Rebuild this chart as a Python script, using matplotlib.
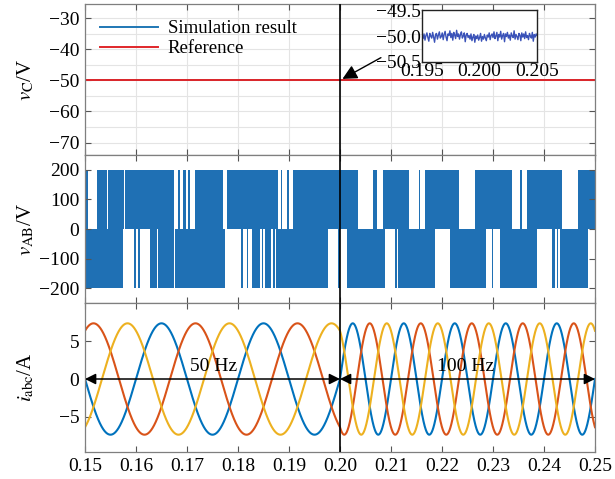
import numpy as np
import matplotlib
matplotlib.use("Agg")
import matplotlib.pyplot as plt
from matplotlib.ticker import MultipleLocator

plt.rcParams['font.family'] = ['Liberation Serif', 'DejaVu Serif']
plt.rcParams['mathtext.fontset'] = 'stix'
plt.rcParams['axes.unicode_minus'] = True

# ---------------- data ----------------
x_ticks = [0.15, 0.16, 0.17, 0.18, 0.19, 0.20, 0.21, 0.22, 0.23, 0.24, 0.25]
x_tick_labels = ["0.15", "0.16", "0.17", "0.18", "0.19", "0.20", "0.21", "0.22", "0.23", "0.24", "0.25"]

# capacitor voltage (top panel)
vc_time = [0.15, 0.25]
vc_sim = [-50.0, -50.0]
vc_ref = [-50.0, -50.0]
vc_ticks = [-70, -60, -50, -40, -30]

# zoomed capacitor voltage (inset), deviations in 0.01 V
inset_t0, inset_t1 = 0.195, 0.205
inset_dev = [2, -5, 4, -8, 1, 6, -3, -10, 5, 0, -4, 7, -2, -12, 3, 5, -6, 2, 8, -4,
             -1, 6, -7, 3, 9, -2, -9, 4, 1, 10, -3, 5, -8, 7, 2, -5, 11, -1, 4, -6,
             3, 8, -4, 0, 6, -11, 2, 5, -3, 1, -6, 4, -9, -2, 3, -12, 0, -5, 2, -8,
             -3, 5, -10, -1, -6, 3, -4, -9, 2, -2, 6, -7, 1, 4, -3, 8, -5, 0, 7, -9,
             3, -2, 9, -6, 1, 5, -11, 4, -1, 7, -4, 2, -8, 6, 0, -3, 10, -6, 3, -1,
             -7, 5, 2, -9, 6, -2, 4, -5, 8, -3, 1, -7, 5, 0, -4, 7, -10, 3, -2, 4, 1]
inset_center = -50.0

# line voltage vAB: intervals (start, end) in seconds where the PWM reaches +200 / -200
vab_level = 200
vab_pos_intervals = [
    (0.1500, 0.1506), (0.1524, 0.1544), (0.1546, 0.1576), (0.1578, 0.1675),
    (0.1683, 0.1686), (0.1692, 0.1698), (0.1702, 0.1706),
    (0.1716, 0.1771), (0.1778, 0.1878), (0.1884, 0.1886), (0.1896, 0.1900),
    (0.1908, 0.2035), (0.2065, 0.2073), (0.2084, 0.2135), (0.2155, 0.2157),
    (0.2167, 0.2233), (0.2265, 0.2337), (0.2353, 0.2357), (0.2367, 0.2435),
    (0.2467, 0.2500)]
vab_neg_intervals = [
    (0.1500, 0.1575), (0.1596, 0.1600), (0.1604, 0.1608),
    (0.1627, 0.1641), (0.1643, 0.1675), (0.1677, 0.1775),
    (0.1806, 0.1810), (0.1818, 0.1820), (0.1827, 0.1843), (0.1847, 0.1849),
    (0.1853, 0.1865), (0.1869, 0.1873), (0.1875, 0.1976), (0.1996, 0.2000),
    (0.2014, 0.2088), (0.2108, 0.2112), (0.2114, 0.2186), (0.2216, 0.2286),
    (0.2298, 0.2300), (0.2314, 0.2386), (0.2416, 0.2422), (0.2425, 0.2427),
    (0.2431, 0.2486)]
vab_ticks = [-200, -100, 0, 100, 200]

# three-phase currents: amplitude, frequency per segment, phase at t=0.15
i_amp = 7.4
seg_bounds = [0.15, 0.20, 0.25]
seg_freq = [50, 100]
phase_deg = {'a': 180, 'b': 60, 'c': -60}   # blue, red, yellow
i_ticks = [-5, 0, 5]
freq_labels = ["50 Hz", "100 Hz"]

# ---------------- styling ----------------
blue = '#1f70b4'
c_blue, c_red, c_yel = '#0072BD', '#D95319', '#EDB120'
spine_col = '#7f7f7f'
fs = 14

fig = plt.figure(figsize=(6.15, 4.79), dpi=100)
L, W = 85 / 615, 510 / 615
ax1 = fig.add_axes([L, 1 - 155 / 479, W, 151 / 479])
ax2 = fig.add_axes([L, 1 - 303 / 479, W, 148 / 479])
ax3 = fig.add_axes([L, 1 - 452 / 479, W, 149 / 479])

for ax in (ax1, ax2, ax3):
    ax.set_xlim(0.15, 0.25)
    ax.set_xticks(x_ticks)
    ax.tick_params(direction='in', top=True, right=True, length=4, width=0.8,
                   color='#555555', labelsize=fs, pad=4)
    for s in ax.spines.values():
        s.set_color(spine_col)
        s.set_linewidth(0.9)
    ax.axvline(0.20, color='black', lw=1.2, zorder=10)
for ax in (ax1, ax2):
    ax.set_xticklabels([])
ax3.set_xticklabels(x_tick_labels)

# ---- top panel ----
ax1.set_ylim(-74, -25.5)
ax1.set_yticks(vc_ticks)
ax1.set_yticklabels([f"\u2212{abs(v)}" for v in vc_ticks])
ax1.yaxis.set_minor_locator(MultipleLocator(5))
ax1.tick_params(which='minor', length=0)
ax1.grid(True, which='both', axis='y', color='#e4e4e4', lw=0.8)
ax1.grid(True, which='major', axis='x', color='#e4e4e4', lw=0.8)
ax1.set_axisbelow(True)
ax1.plot(vc_time, vc_sim, color='#1f77b4', lw=1.4, label='Simulation result')
ax1.plot(vc_time, vc_ref, color='#e0262a', lw=1.4, label='Reference')
leg = ax1.legend(loc='upper left', frameon=False, fontsize=13.5, handlelength=3.1,
                 bbox_to_anchor=(0.0, 0.993), labelspacing=0.15, handletextpad=0.5,
                 borderaxespad=0.4)
ax1.set_ylabel("$v_{\\mathrm{C}}$/V", fontsize=fs + 1)

ax1.annotate('', xy=(0.2, -50), xytext=(0.2085, -42.3),
             arrowprops=dict(arrowstyle='-|>', color='black', lw=1.0, mutation_scale=22),
             zorder=12)

axin = ax1.inset_axes([0.661, 0.616, 0.2255, 0.344])
t_in = np.linspace(inset_t0, inset_t1, len(inset_dev))
axin.plot(t_in, inset_center + np.array(inset_dev) / 100.0, color='#3a52b8', lw=1.0)
axin.set_xlim(inset_t0, inset_t1)
axin.set_ylim(-50.5, -49.5)
axin.set_xticks([0.195, 0.200, 0.205])
axin.set_xticklabels(["0.195", "0.200", "0.205"])
axin.set_yticks([-49.5, -50.0, -50.5])
axin.set_yticklabels(["\u221249.5", "\u221250.0", "\u221250.5"])
axin.tick_params(length=0, labelsize=fs, pad=1)
for s in axin.spines.values():
    s.set_color('#222222')
    s.set_linewidth(1.0)

# ---- middle panel ----
ax2.set_ylim(-250, 250)
ax2.set_yticks(vab_ticks)
ax2.set_yticklabels([f"\u2212{abs(v)}" if v < 0 else str(v) for v in vab_ticks])
ax2.broken_barh([(a, b - a) for a, b in vab_pos_intervals], (0, vab_level),
                facecolors=blue, edgecolor='none')
ax2.broken_barh([(a, b - a) for a, b in vab_neg_intervals], (-vab_level, vab_level),
                facecolors=blue, edgecolor='none')
ax2.set_ylabel("$v_{\\mathrm{AB}}$/V", fontsize=fs + 1)

# ---- bottom panel ----
ax3.set_ylim(-9.7, 10.1)
ax3.set_yticks(i_ticks)
ax3.set_yticklabels([f"\u2212{abs(v)}" if v < 0 else str(v) for v in i_ticks])
t_all, theta_all = [], []
theta0 = 0.0
for k, f in enumerate(seg_freq):
    t = np.linspace(seg_bounds[k], seg_bounds[k + 1], 1500)
    th = theta0 + 2 * np.pi * f * (t - seg_bounds[k])
    t_all.append(t)
    theta_all.append(th)
    theta0 = th[-1]
t_all = np.concatenate(t_all)
theta_all = np.concatenate(theta_all)
for ph, col in zip(['a', 'b', 'c'], [c_blue, c_red, c_yel]):
    ax3.plot(t_all, i_amp * np.sin(theta_all + np.deg2rad(phase_deg[ph])), color=col, lw=1.5)
ax3.set_ylabel("$i_{\\mathrm{abc}}$/A", fontsize=fs + 1)

arrow_kw = dict(arrowstyle='<|-|>', color='black', lw=1.1, mutation_scale=16,
                shrinkA=0, shrinkB=0)
for k in range(2):
    ax3.annotate('', xy=(seg_bounds[k], 0), xytext=(seg_bounds[k + 1], 0),
                 arrowprops=arrow_kw, zorder=11)
ax3.text(0.1753, 1.6, freq_labels[0], fontsize=fs, ha='center', va='center', zorder=12)
ax3.text(0.2247, 1.6, freq_labels[1], fontsize=fs, ha='center', va='center', zorder=12)

for ax in (ax1, ax2, ax3):
    ax.yaxis.set_label_coords(-0.096, 0.5)

fig.savefig('out.png', dpi=100)
